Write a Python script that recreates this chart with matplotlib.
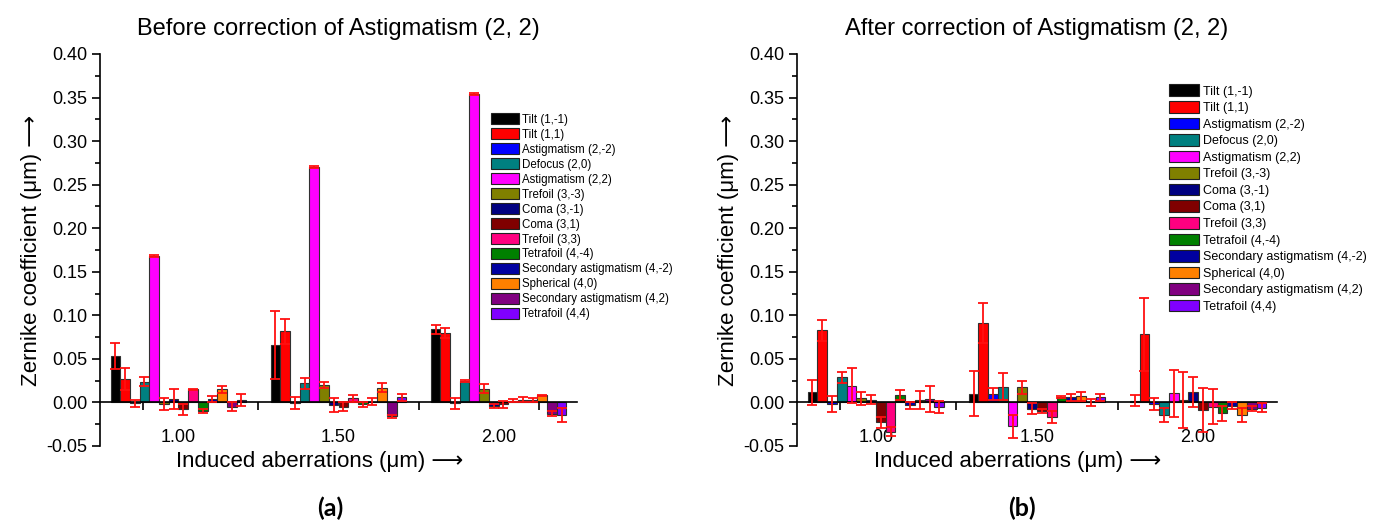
import numpy as np
import matplotlib
matplotlib.use("Agg")
import matplotlib.pyplot as plt
from matplotlib.patches import Patch
from matplotlib.ticker import MultipleLocator, FixedLocator

plt.rcParams['font.family'] = ['Liberation Sans', 'DejaVu Sans']

groups = ['1.00', '1.50', '2.00']
terms = ['Tilt (1,-1)', 'Tilt (1,1)', 'Astigmatism (2,-2)', 'Defocus (2,0)',
         'Astigmatism (2,2)', 'Trefoil (3,-3)', 'Coma (3,-1)', 'Coma (3,1)',
         'Trefoil (3,3)', 'Tetrafoil (4,-4)', 'Secondary astigmatism (4,-2)',
         'Spherical (4,0)', 'Secondary astigmatism (4,2)', 'Tetrafoil (4,4)']
colors = ['#000000', '#FF0000', '#0000FF', '#008080', '#FF00FF', '#808000',
          '#000080', '#800000', '#FF0080', '#008000', '#0000A0', '#FF8000',
          '#800080', '#8000FF']

# before correction: one row per induced aberration, one column per term
before = [
    [0.053, 0.027, -0.001, 0.024, 0.168, -0.002, 0.004, -0.008, 0.015, -0.010, 0.004, 0.015, -0.005, 0.003],
    [0.066, 0.0815, -0.001, 0.022, 0.2705, 0.020, -0.003, -0.005, 0.005, -0.002, 0.001, 0.017, -0.016, 0.006],
    [0.084, 0.080, -0.001, 0.025, 0.354, 0.016, -0.004, -0.002, 0.002, 0.003, 0.003, 0.008, -0.013, -0.014],
]
before_err = [
    [0.015, 0.013, 0.004, 0.005, 0.001, 0.007, 0.012, 0.006, 0.001, 0.002, 0.003, 0.004, 0.005, 0.007],
    [0.039, 0.014, 0.007, 0.006, 0.001, 0.003, 0.008, 0.005, 0.004, 0.003, 0.004, 0.005, 0.002, 0.004],
    [0.005, 0.006, 0.0065, 0.001, 0.001, 0.005, 0.002, 0.004, 0.002, 0.003, 0.002, 0.001, 0.003, 0.008],
]

# after correction
after = [
    [0.0115, 0.083, -0.002, 0.0287, 0.019, 0.0046, 0.003, -0.023, -0.0335, 0.0085, -0.003, 0.003, 0.0035, -0.0055],
    [0.010, 0.0914, 0.0095, 0.0183, -0.0276, 0.0172, -0.007, -0.010, -0.0165, 0.0065, 0.0057, 0.007, 0.000, 0.006],
    [0.002, 0.078, -0.002, -0.0146, 0.0103, 0.003, 0.012, -0.0085, -0.005, -0.0126, -0.004, -0.0145, -0.007, -0.006],
]
after_err = [
    [0.0145, 0.012, 0.0095, 0.0065, 0.020, 0.007, 0.005, 0.006, 0.005, 0.006, 0.004, 0.010, 0.015, 0.007],
    [0.026, 0.023, 0.007, 0.015, 0.013, 0.007, 0.006, 0.002, 0.007, 0.001, 0.004, 0.005, 0.004, 0.004],
    [0.006, 0.042, 0.007, 0.0077, 0.0275, 0.032, 0.0175, 0.025, 0.020, 0.0085, 0.004, 0.008, 0.003, 0.005],
]

W, H = 1389, 526
fig = plt.figure(figsize=(W / 100, H / 100), dpi=100)
ax1 = fig.add_axes([100 / W, 1 - 446 / H, 477 / W, 392 / H])
ax2 = fig.add_axes([797 / W, 1 - 446 / H, 480 / W, 392 / H])

bw = 0.0606
xg = np.arange(len(groups))


def draw(ax, vals, errs, title, tag, tag_x, leg_pos, leg_fs, leg_sp, leg_hh):
    vals = np.array(vals)
    errs = np.array(errs)
    n = len(terms)
    for i in range(n):
        xs = xg + (i - (n - 1) / 2) * bw
        ax.bar(xs, vals[:, i], width=bw, color=colors[i], edgecolor='#303030',
               linewidth=0.8, zorder=2)
        ax.errorbar(xs, vals[:, i], yerr=errs[:, i], fmt='none', ecolor='#FF1010',
                    elinewidth=1.3, capsize=3.5, capthick=1.3, zorder=3)
    ax.set_xlim(-0.49, 2.49)
    ax.set_ylim(-0.05, 0.40)
    for s in ['top', 'right']:
        ax.spines[s].set_visible(False)
    ax.spines['bottom'].set_position(('data', 0))
    ax.spines['left'].set_linewidth(1.2)
    ax.spines['bottom'].set_linewidth(1.2)
    ax.yaxis.set_minor_locator(MultipleLocator(0.025))
    ax.set_yticks(np.arange(-0.05, 0.401, 0.05))
    ax.set_yticklabels(['%.2f' % v for v in np.arange(-0.05, 0.401, 0.05)])
    ax.tick_params(axis='y', which='major', length=6, width=1.2, labelsize=13, pad=3)
    ax.tick_params(axis='y', which='minor', length=3.5, width=1.2)
    ax.set_xticks(xg)
    ax.set_xticklabels(groups)
    ax.xaxis.set_minor_locator(FixedLocator([-0.22, 0.5, 1.5, 2.25]))
    ax.tick_params(axis='x', which='major', length=0, labelsize=13, pad=19)
    ax.tick_params(axis='x', which='minor', length=6, width=1.2)
    ax.set_ylabel('Zernike coefficient (\u03bcm) \u27f6', fontsize=16, labelpad=3)
    ax.set_title(title, fontsize=17, pad=14)
    handles = [Patch(facecolor=c, edgecolor='#202020', linewidth=0.8) for c in colors]
    ax.legend(handles, terms, loc='upper left', bbox_to_anchor=leg_pos, frameon=False,
              fontsize=leg_fs, labelspacing=leg_sp, handlelength=2.4, handleheight=leg_hh,
              handletextpad=0.3, borderaxespad=0)
    bb = ax.get_position()
    fig.text(bb.x0 + bb.width * 0.46, 1 - 461 / H, 'Induced aberrations (\u03bcm) \u27f6',
             fontsize=16, ha='center', va='center')
    fig.text(tag_x / W, 1 - 508 / H, tag, fontsize=18, fontweight='bold',
             family=['Lato', 'DejaVu Sans'], ha='center', va='center')


draw(ax1, before, before_err, 'Before correction of Astigmatism (2, 2)', '(a)', 330,
     (0.81, 0.86), 8.3, 0.25, 1.0)
draw(ax2, after, after_err, 'After correction of Astigmatism (2, 2)', '(b)', 1022,
     (0.765, 0.935), 9, 0.28, 1.05)

fig.savefig('out.png', dpi=100)
